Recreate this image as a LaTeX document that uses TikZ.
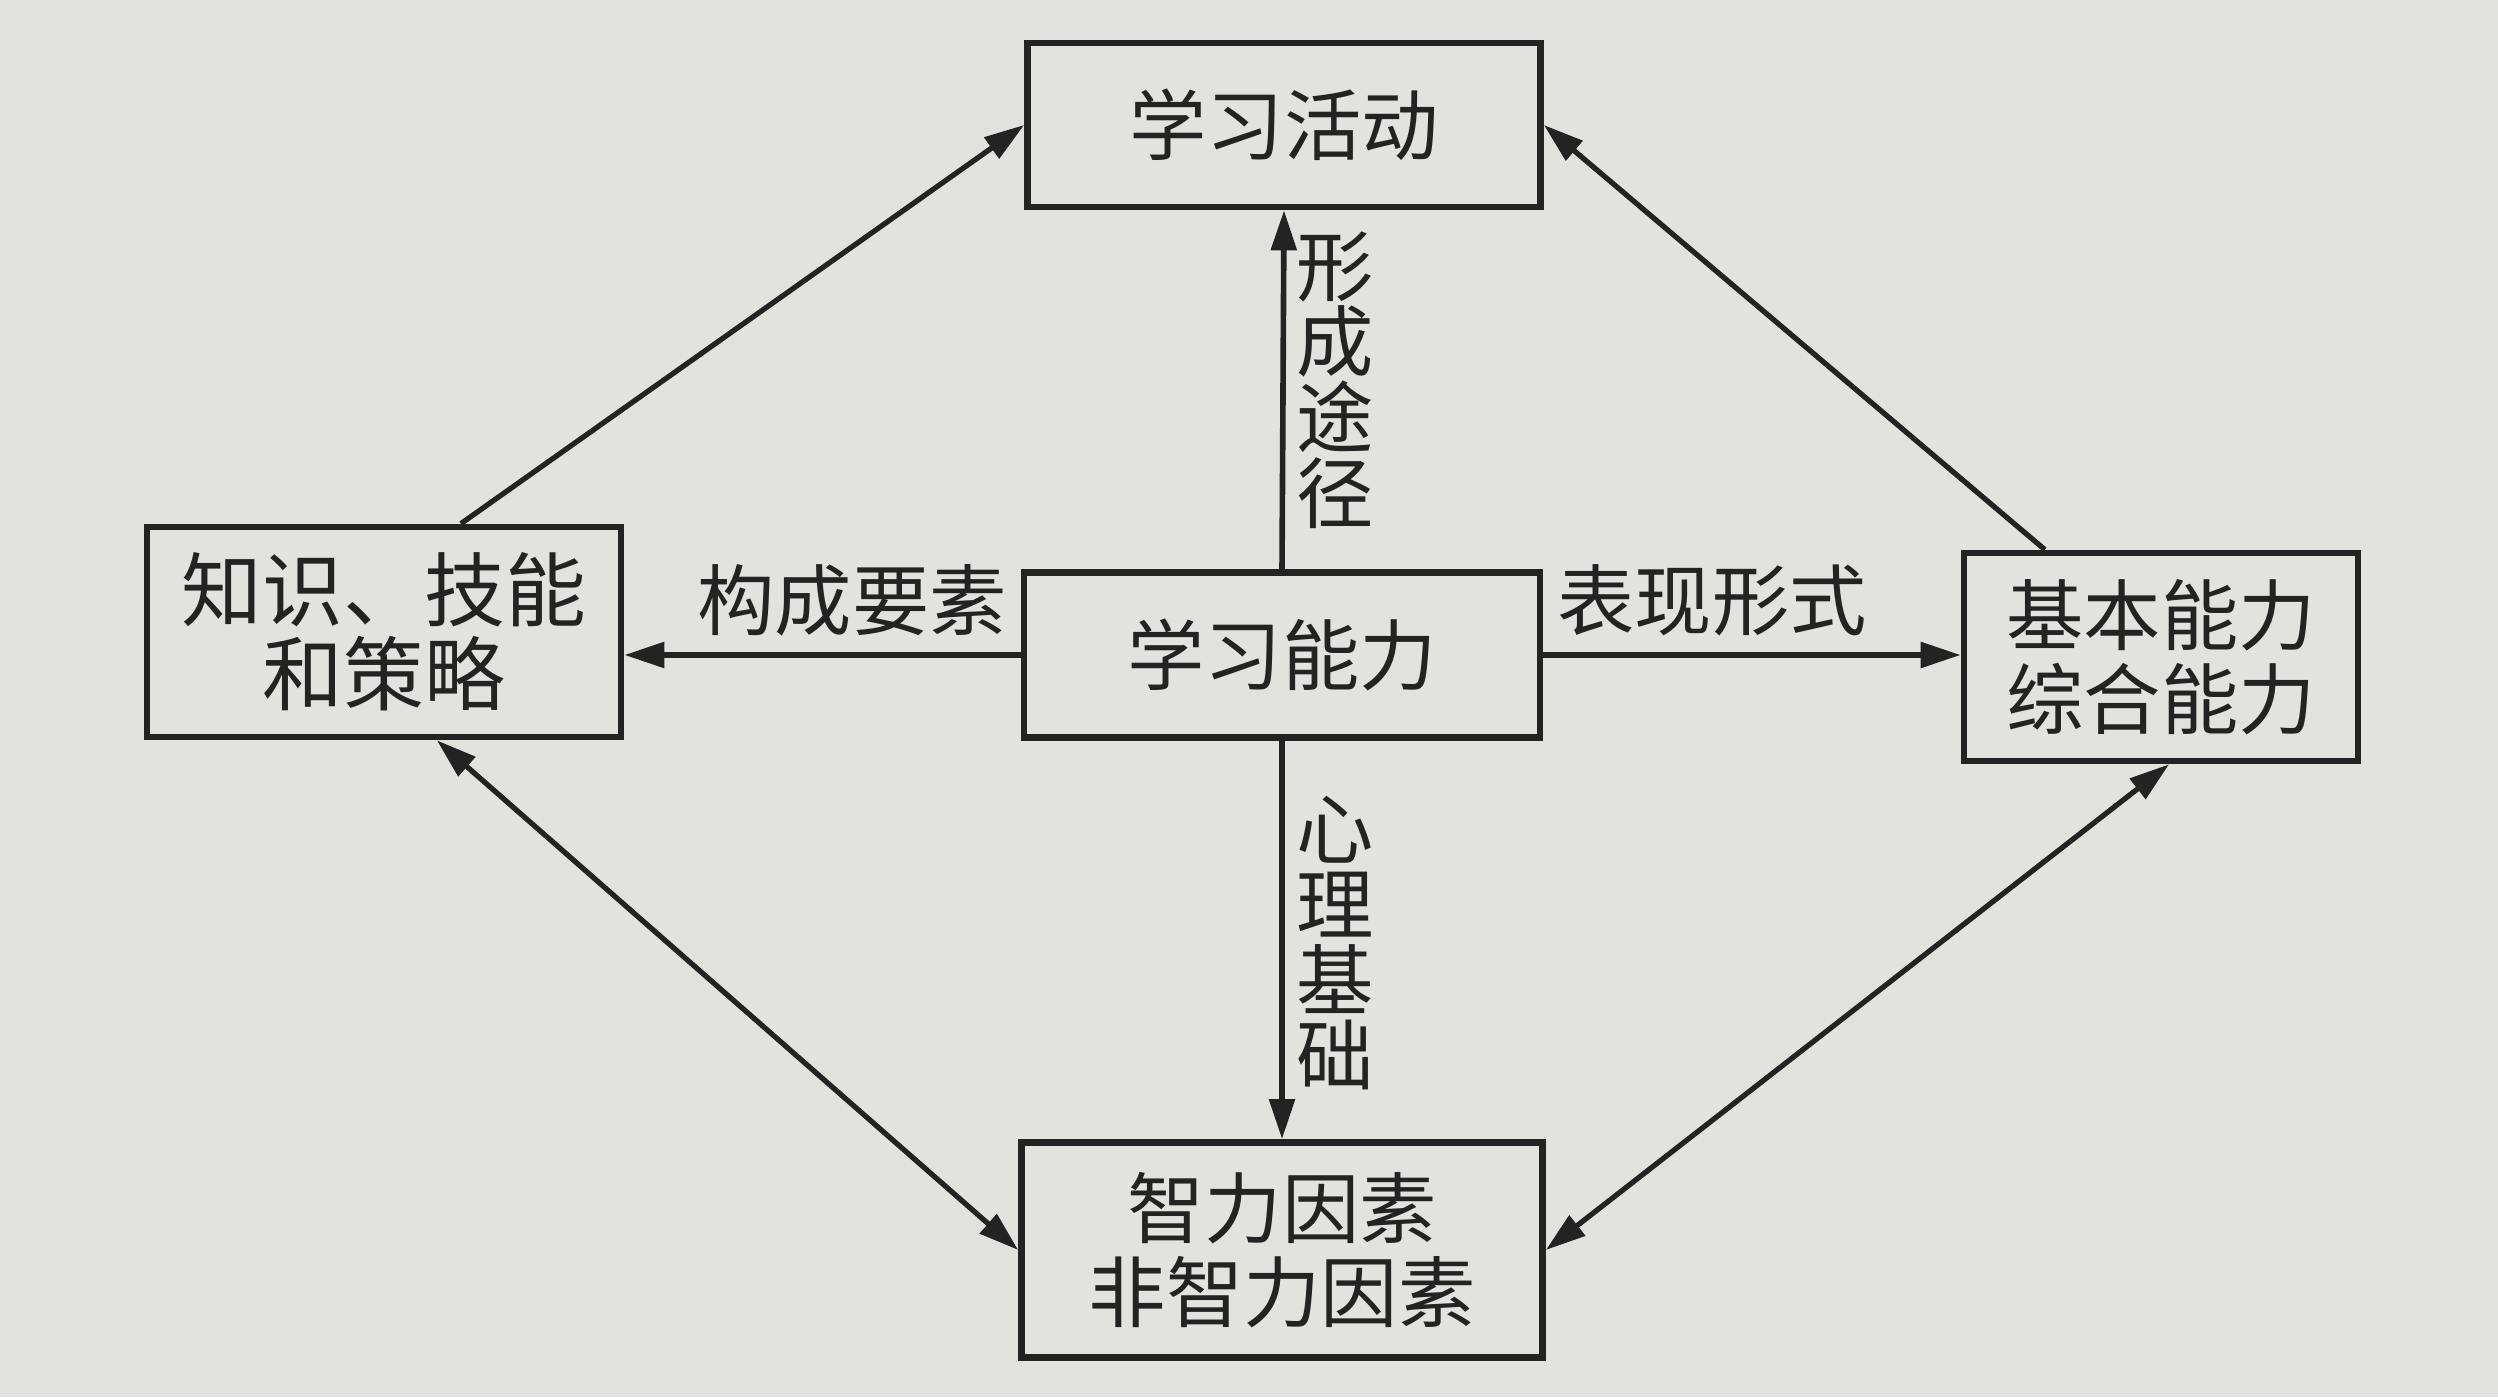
\documentclass[tikz,border=0pt]{standalone}
\usepackage{fontspec}
\setmainfont{Noto Sans CJK SC}
\usepackage{tikz}
\usetikzlibrary{arrows.meta,positioning,calc}
\definecolor{PaperColor}{RGB}{226,226,223}
\definecolor{InkColor}{RGB}{35,35,35}
\tikzset{
  boxnode/.style={draw=InkColor, line width=1.9pt, align=center, inner sep=0pt,
    text=InkColor, font=\fontsize{22}{24}\selectfont},
  linklabel/.style={text=InkColor, align=center, inner sep=0pt,
    font=\fontsize{22}{21.5}\selectfont},
}

\begin{document}
\begin{tikzpicture}[>={Triangle[length=4mm, width=2.5mm]}]
      \fill[PaperColor] (0,0) rectangle (24.98,13.97);
      \useasboundingbox (0,0) rectangle (24.98,13.97);

      \node[boxnode, minimum width=5.13cm, minimum height=1.64cm] (act) at (12.84,12.72) {学习活动};
      \node[boxnode, minimum width=4.74cm, minimum height=2.10cm, font=\fontsize{23}{24}\selectfont] (know) at (3.84,7.65) {知识、技能\\和策略};
      \node[boxnode, minimum width=5.16cm, minimum height=1.65cm] (cap) at (12.82,7.42) {学习能力};
      \node[boxnode, minimum width=3.94cm, minimum height=2.08cm] (basic) at (21.61,7.40) {基本能力\\综合能力};
      \node[boxnode, minimum width=5.21cm, minimum height=2.15cm] (intel) at (12.82,1.47) {智力因素\\非智力因素};

      \draw[->, InkColor, line width=1.6pt] (cap.north)--(act.south);
      \draw[->, InkColor, line width=1.6pt] (cap.south)--(intel.north);
      \draw[->, InkColor, line width=1.6pt] (cap.west)--(cap.west -| know.east);
      \draw[->, InkColor, line width=1.6pt] (cap.east)--(cap.east -| basic.west);

      \draw[->, InkColor, line width=1.5pt] ($(know.north west)!0.66!(know.north east)$)--(act.west);
      \draw[->, InkColor, line width=1.5pt] ($(basic.north west)!0.21!(basic.north east)$)--(act.east);
      \draw[<->, InkColor, line width=1.5pt] ($(know.south west)!0.61!(know.south east)$)--(intel.west);
      \draw[<->, InkColor, line width=1.5pt] ($(basic.south west)!0.52!(basic.south east)$)--(intel.east);

      \node[linklabel] (lblparts) at (8.52,7.97) {构成要素};
      \node[linklabel] (lblform) at (17.12,7.97) {表现形式};
      \node[linklabel] (lblway) at (13.35,10.17) {形\\成\\途\\径};
      \node[linklabel] (lblbase) at (13.35,4.54) {心\\理\\基\\础};
    \end{tikzpicture}
\end{document}
